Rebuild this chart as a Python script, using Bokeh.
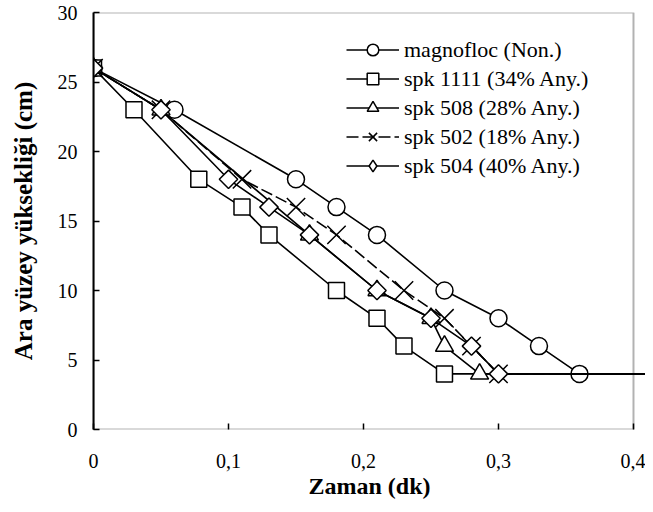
from bokeh.plotting import figure
from bokeh.models import FixedTicker, Range1d, Legend, LegendItem, BoxAnnotation
from bokeh.embed import file_html
from bokeh.resources import INLINE

# ---- data ----
x_ticks = [0, 0.1, 0.2, 0.3, 0.4]
x_tick_labels = ["0", "0,1", "0,2", "0,3", "0,4"]
y_ticks = [0, 5, 10, 15, 20, 25, 30]
y_tick_labels = ["0", "5", "10", "15", "20", "25", "30"]

series_names = ["magnofloc (Non.)", "spk 1111 (34% Any.)", "spk 508 (28% Any.)",
                "spk 502 (18% Any.)", "spk 504 (40% Any.)"]

mag_x = [0, 0.06, 0.15, 0.18, 0.21, 0.26, 0.30, 0.33, 0.36, 0.5]
mag_y = [26, 23, 18, 16, 14, 10, 8, 6, 4, 4]
s1111_x = [0, 0.03, 0.078, 0.11, 0.13, 0.18, 0.21, 0.23, 0.26, 0.5]
s1111_y = [26, 23, 18, 16, 14, 10, 8, 6, 4, 4]
s508_x = [0, 0.05, 0.16, 0.21, 0.25, 0.26, 0.286, 0.5]
s508_y = [26, 23, 14, 10, 8, 6, 4, 4]
s502_x = [0, 0.05, 0.11, 0.15, 0.18, 0.23, 0.26, 0.28, 0.30, 0.5]
s502_y = [26, 23, 18, 16, 14, 10, 8, 6, 4, 4]
s504_x = [0, 0.05, 0.10, 0.13, 0.16, 0.21, 0.25, 0.28, 0.30, 0.5]
s504_y = [26, 23, 18, 16, 14, 10, 8, 6, 4, 4]

X_MAX = 0.4
Y_MAX = 30
FONT = "Liberation Serif"

p = figure(width=645, height=504,
           x_range=Range1d(0, 0.4089), y_range=Range1d(0, Y_MAX),
           output_backend="svg", toolbar_location=None,
           min_border_left=93, min_border_right=0,
           min_border_top=12, min_border_bottom=75)
p.outline_line_color = None
p.grid.visible = False
p.background_fill_color = "white"
p.border_fill_color = "white"

# frame of the plot area (0..X_MAX, 0..Y_MAX)
p.add_layout(BoxAnnotation(left=0, right=X_MAX, bottom=0, top=Y_MAX,
                           fill_alpha=0, line_color="black", line_width=2))

# axes
p.xaxis.ticker = FixedTicker(ticks=x_ticks)
p.xaxis.major_label_overrides = dict(zip(x_ticks, x_tick_labels))
p.yaxis.ticker = FixedTicker(ticks=y_ticks)
p.yaxis.major_label_overrides = dict(zip(y_ticks, y_tick_labels))
p.xaxis.axis_line_color = None
p.yaxis.axis_line_width = 2
for ax in (p.xaxis, p.yaxis):
    ax.major_tick_in = 6
    ax.major_tick_out = 0
    ax.minor_tick_line_color = None
    ax.major_tick_line_width = 1.5
    ax.major_label_text_font = FONT
    ax.major_label_text_font_size = "20px"
    ax.major_label_text_color = "black"
    ax.axis_label_text_font = FONT
    ax.axis_label_text_font_style = "bold"
    ax.axis_label_text_color = "black"
p.xaxis.axis_label_text_font_size = "24px"
p.yaxis.axis_label_text_font_size = "25px"
p.xaxis.axis_label = "Zaman (dk)"
p.yaxis.axis_label = "Ara yüzey yüksekliği (cm)"
p.xaxis.major_label_standoff = 24
p.xaxis.axis_label_standoff = 2
p.yaxis.major_label_standoff = 16
p.yaxis.axis_label_standoff = 18

series = [
    (mag_x, mag_y, "circle", 0, 17, None),
    (s1111_x, s1111_y, "square", 0, 16, None),
    (s508_x, s508_y, "triangle", 0, 18, None),
    (s502_x, s502_y, "x", 0, 26, "12 4"),
    (s504_x, s504_y, "square", 0.785398, 13, None),
]

items = []
for (xs, ys, marker, ang, size, dash), name in zip(series, series_names):
    lkw = dict(line_color="black", line_width=1.6)
    if dash:
        lkw["line_dash"] = dash
    r_line = p.line(xs, ys, **lkw)
    vx = [a for a in xs if a <= X_MAX]
    vy = [b for a, b in zip(xs, ys) if a <= X_MAX]
    leg_rs = [r_line]
    if ang:
        # legend glyphs ignore the angle: a diamond marker (hidden under the
        # rotated squares in the plot) supplies the legend symbol
        r_leg = p.scatter(vx, vy, marker="diamond", size=16,
                          line_color="black", line_width=1.5, fill_color="white")
        leg_rs.append(r_leg)
    r_mark = p.scatter(vx, vy, marker=marker, angle=ang, size=size,
                       line_color="black", line_width=1.5, fill_color="white")
    if not ang:
        leg_rs.append(r_mark)
    items.append(LegendItem(label=name, renderers=leg_rs))

legend = Legend(items=items, location=(253, 249))
legend.border_line_color = None
legend.background_fill_alpha = 0
legend.padding = 0
legend.margin = 0
legend.spacing = 0
legend.glyph_width = 53
legend.glyph_height = 29
legend.label_height = 29
legend.label_standoff = 5
legend.label_text_font = FONT
legend.label_text_font_size = "22px"
legend.label_text_color = "black"
p.add_layout(legend)

open("out.html", "w").write(file_html(p, INLINE))
